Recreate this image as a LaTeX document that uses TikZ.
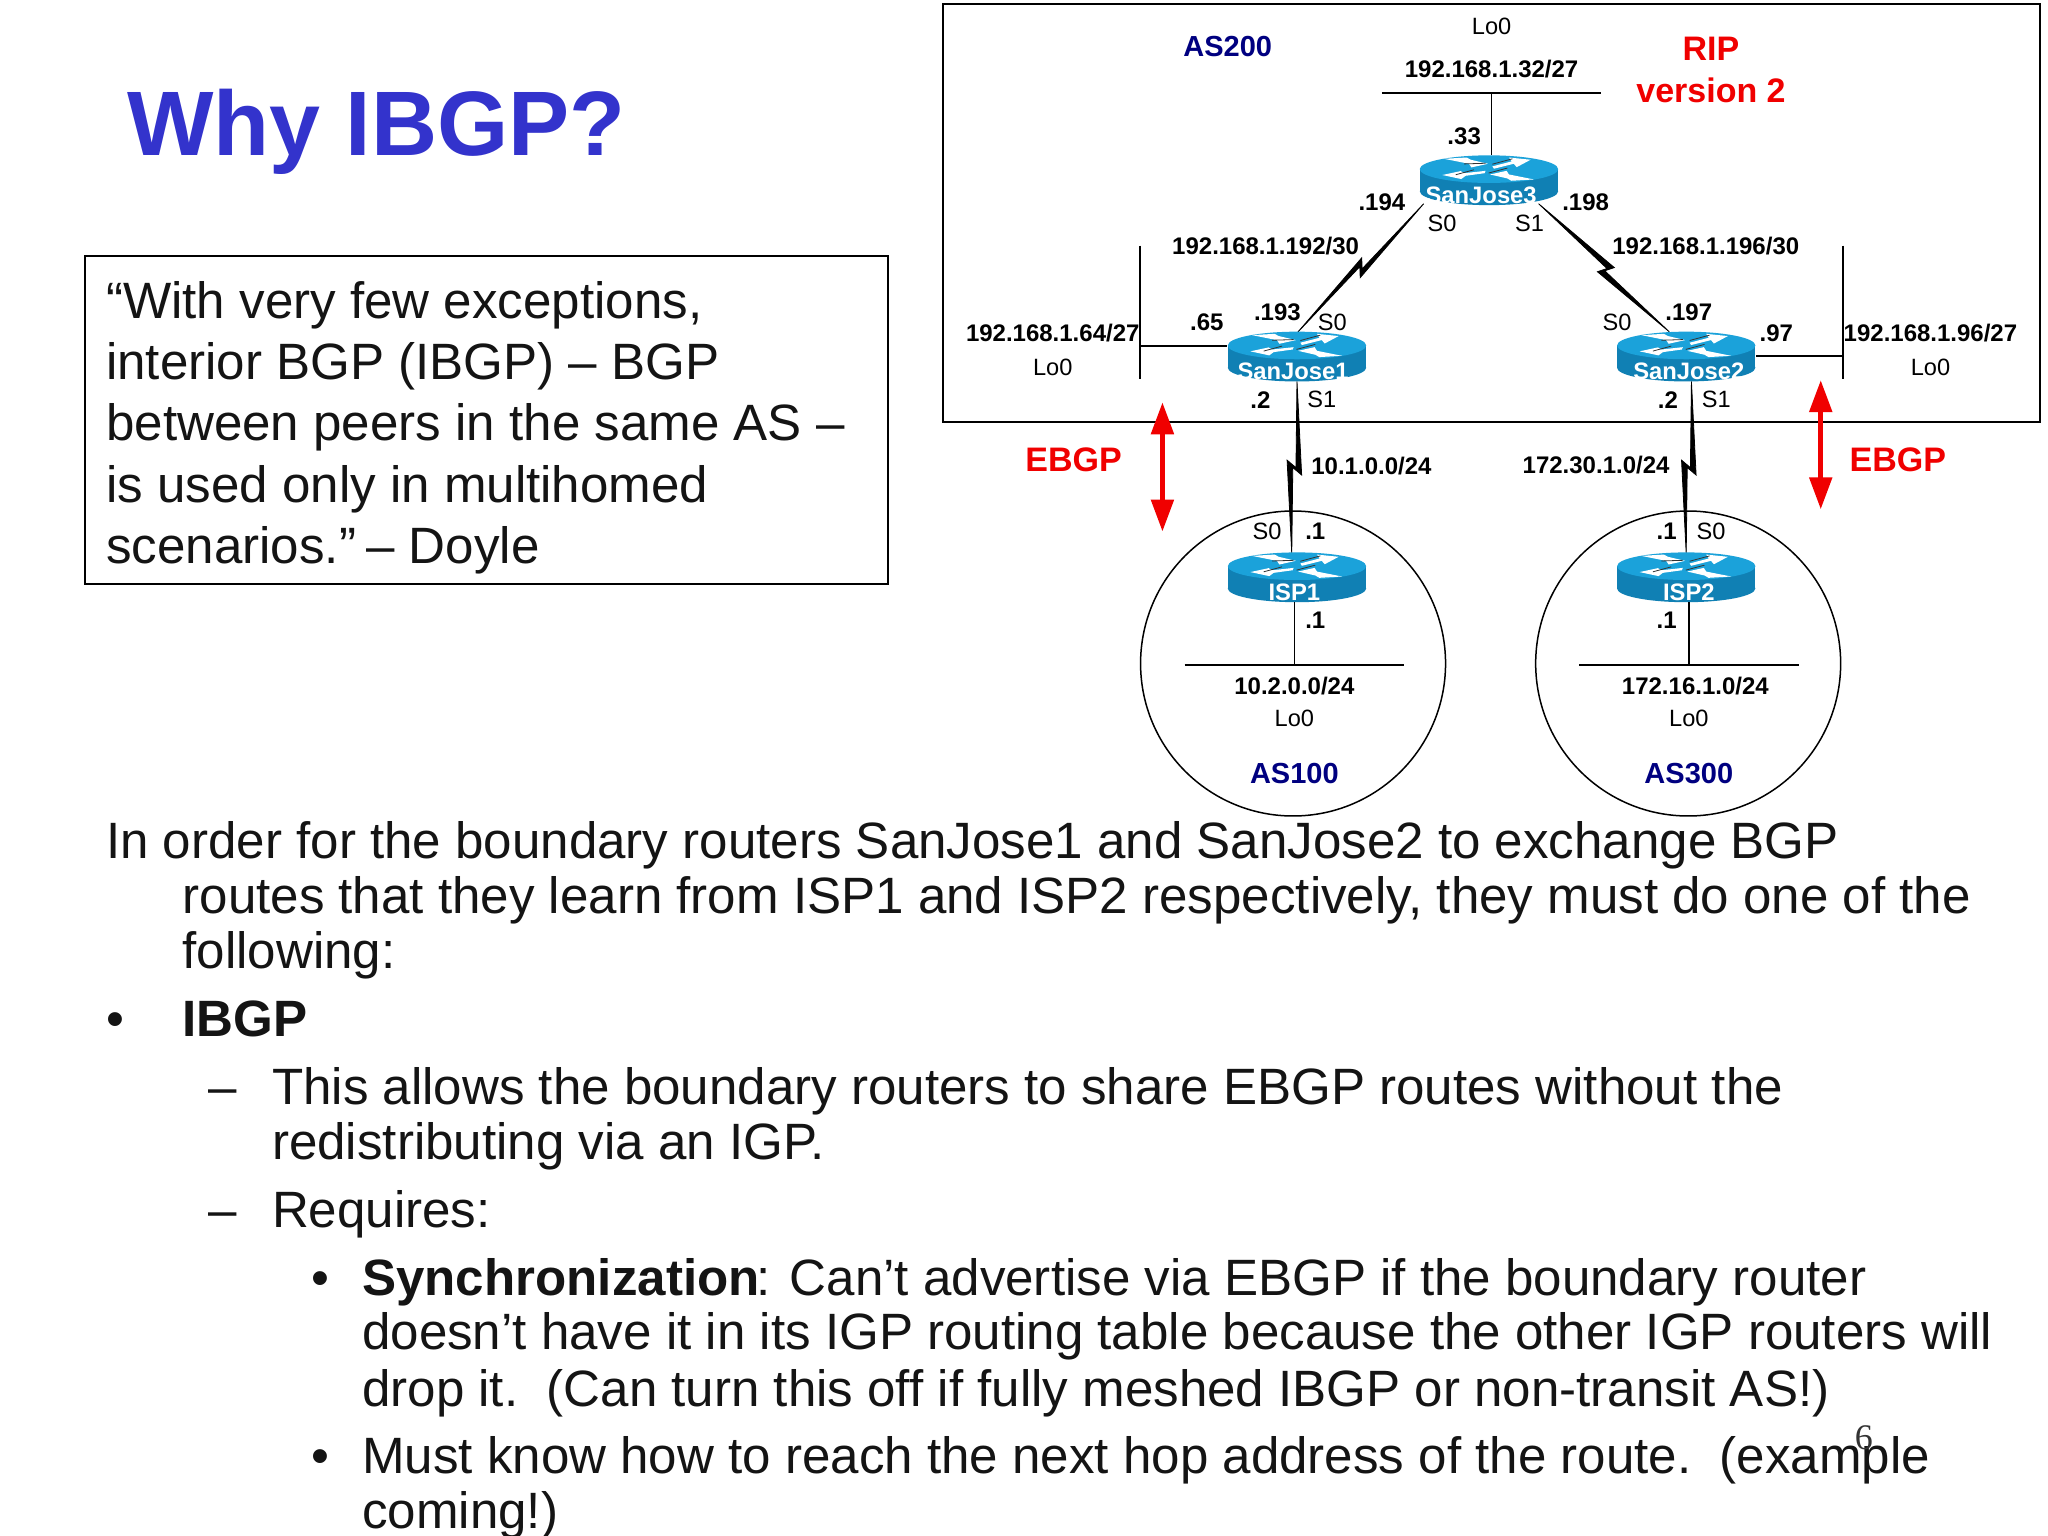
\documentclass[tikz,border=0pt]{standalone}
\usepackage{fontspec}
\setmainfont{Liberation Sans}
\newfontfamily\serifnum{Liberation Serif}
\usetikzlibrary{calc,arrows.meta}
\definecolor{rtop}{HTML}{1BA2DA}
\definecolor{rside}{HTML}{1080B4}
\definecolor{tblue}{HTML}{3333CC}
\definecolor{asnavy}{HTML}{000080}
\definecolor{redlab}{HTML}{F00000}
\newcommand\fsz[1]{\fontsize{#1}{#1}\selectfont}
\tikzset{
  netline/.style={line width=.85pt,black},
  thinb/.style={inner sep=0pt,font=\fsz{12}\bfseries},
  thinn/.style={inner sep=0pt,font=\fsz{11.8}},
  asl/.style={inner sep=0pt,font=\fsz{14.5}\bfseries,text=asnavy},
  redl/.style={inner sep=0pt,font=\fsz{17}\bfseries,text=redlab},
  rlab/.style={inner sep=0pt,anchor=base,font=\fsz{11.9}\bfseries,text=white},
  body/.style={inner sep=0pt,anchor=base west,font=\fsz{25.55},text=black!92},
  routerbox/.style={inner sep=0pt,minimum width=69.2pt,minimum height=24.5pt},
  redarrow/.style={redlab,line width=2.6pt,{Triangle[length=16pt,width=11pt]}-{Triangle[length=16pt,width=11pt]}},
}
% #1 name, #2 centre x, #3 top y, #4 label, #5 label x offset
\newcommand\router[5]{%
  \begin{scope}[shift={(#2,#3)}]
    \fill[rside] (0,27.5) ellipse [x radius=34.6pt,y radius=6.9pt];
    \fill[rside] (-53,10.5) rectangle (53,27.5);
    \fill[rtop] (0,10.5) ellipse [x radius=34.6pt,y radius=6.9pt];
    \begin{scope}[shift={(0,11)}]
      \fill[white] (-34.4,-8.4) -- (-17.1,-9.4) -- (-14,-7.7) -- (-.8,-4.6) -- (-13.5,-1.8) -- (-15.3,-4.6) -- cycle;
      \fill[white] (34.4,7.4) -- (17.1,8.4) -- (14,6.6) -- (.8,3.6) -- (13.5,.8) -- (15.3,3.6) -- cycle;
      \fill[white] (31.9,-7.7) -- (15.3,-9.4) -- (17.3,-6.4) -- (2.6,-2.6) -- (3.8,-.8) -- (19,-4.6) -- (21.2,-2) -- cycle;
      \fill[white] (-35.7,4) -- (-21.7,1) -- (-19,2.6) -- (-2.6,.8) -- (-3.3,2.6) -- (-17.9,4.6) -- (-21.2,7.1) -- cycle;
      \draw[black!80,line width=.4pt] (2.6,-4.3) -- (17.9,-8.4) (-25.5,3.8) -- (-11.5,0) (-19,-4.5) -- (-2.6,-5) (-.3,2.5) -- (14,-1.3);
    \end{scope}
    \node[rlab] (#1lab) at (#5,36.6) {#4};
  \end{scope}
  \node[routerbox] (#1) at (#2,#3+19) {};
}
% #1,#2 ends, #3 fraction, #4 side offset of the tips, #5 offset along the line
\newcommand\serial[5]{%
  \coordinate (m) at ($(#1)!#3!(#2)$);
  \coordinate (ua) at ($(m)!#5!(#2)$);
  \coordinate (ub) at ($(m)!-#5!(#2)$);
  \coordinate (t1) at ($(ua)!#4!90:(#2)$);
  \coordinate (t2) at ($(ub)!-#4!90:(#2)$);
  \coordinate (n1) at ($(m)!-0.8pt!90:(#2)$);
  \coordinate (n2) at ($(m)!0.8pt!90:(#2)$);
  \draw[black,line width=.4pt,fill=black,line join=miter] (#1) -- (t1) -- (n1) -- (#2) -- (t2) -- (n2) -- cycle;
}
\begin{document}
\begin{tikzpicture}[x=.6531pt,y=-.6531pt]
\useasboundingbox (0,0) rectangle (1568,1176);
\fill[white] (0,0) rectangle (1568,1176);

% slide text
\node[inner sep=0pt,anchor=base west,font=\fsz{45.8}\bfseries,text=tblue] (title) at (97,119) {Why IBGP?};
\node[draw=black,line width=.75pt,minimum width=401.6pt,minimum height=164pt,inner sep=0pt] (quotebox) at (372.5,321.5) {};
\node[anchor=west,inner sep=0pt,align=left,font=\fontsize{25.55}{30.7}\selectfont,text=black!92] (quote) at (81,327.5)
 {“With very few exceptions,\\interior BGP (IBGP) – BGP\\between peers in the same AS –\\is used only in multihomed\\scenarios.”\kern-2pt\ – Doyle};

\node[body] (b1) at (81,657) {In order for the boundary routers SanJose1 and SanJose2 to exchange BGP};
\node[body] (b2) at (139.5,699.5) {routes that they learn from ISP1 and ISP2 respectively, they must do one of the};
\node[body] (b3) at (139.5,741.5) {following:};
\node[body] (bu1) at (81,793.5) {•};
\node[body,font=\fsz{25.55}\bfseries] (b4) at (139.5,793.5) {IBGP};
\node[body] (d1) at (159,845.5) {–};
\node[body] (b5) at (208,845.5) {This allows the boundary routers to share EBGP routes without the};
\node[body] (b6) at (208,887.5) {redistributing via an IGP.};
\node[body] (d2) at (159,939.5) {–};
\node[body] (b7) at (208,939.5) {Requires:};
\node[body] (bu2) at (238,991.5) {•};
\node[body] (b8) at (277,991.5) {\textbf{Synchronization}\kern-1.5pt: Can’t advertise via EBGP if the boundary router};
\node[body] (b9) at (277,1033.5) {doesn’t have it in its IGP routing table because the other IGP routers will};
\node[body] (b10) at (277,1076.5) {drop it.\ \ (Can turn this off if fully meshed IBGP or non-transit AS!)};
\node[body] (bu3) at (238,1128.5) {•};
\node[body] (b11) at (277,1128.5) {Must know how to reach the next hop address of the route.\ \ (example};
\node[body] (b12) at (277,1170.5) {coming!)};
\node[inner sep=0pt,font=\serifnum\fsz{18},text=black!80] (pagenum) at (1427,1101) {6};

% diagram containers
\node[draw=black,line width=.9pt,inner sep=0pt,minimum width=548.6pt,minimum height=209pt] (as200) at (1142,163) {};
\node[draw=black,line width=.75pt,circle,inner sep=0pt,minimum size=152.5pt] (as100c) at (990,508) {};
\node[draw=black,line width=.75pt,circle,inner sep=0pt,minimum size=152.5pt] (as300c) at (1292.5,508) {};

% LAN bars
\coordinate (lan3) at (1142,71);
\coordinate (lan3a) at (1058,71); \coordinate (lan3b) at (1226,71);
\coordinate (lanl) at (873,265);
\coordinate (lanla) at (873,188); \coordinate (lanlb) at (873,290);
\coordinate (lanr) at (1411,272.7);
\coordinate (lanra) at (1411,188); \coordinate (lanrb) at (1411,290);
\coordinate (lani1) at (991,509);
\coordinate (lani1a) at (907,509); \coordinate (lani1b) at (1075,509);
\coordinate (lani2) at (1293,509);
\coordinate (lani2a) at (1209,509); \coordinate (lani2b) at (1377,509);
\draw[netline] (lan3a) -- (lan3b);
\draw[netline] (lanla) -- (lanlb);
\draw[netline] (lanra) -- (lanrb);
\draw[netline] (lani1a) -- (lani1b);
\draw[netline] (lani2a) -- (lani2b);

% serial end points
\coordinate (s3l) at (1090,156);
\coordinate (s1t) at (993,255);
\coordinate (s3r) at (1178,156);
\coordinate (s2t) at (1278,254);
\coordinate (s1b) at (993,292);
\coordinate (i1t) at (989,424);
\coordinate (s2b) at (1295,292);
\coordinate (i2t) at (1291,424);
\serial{s3l}{s1t}{0.495}{3.2pt}{3.8pt}
\serial{s3r}{s2t}{0.515}{3.7pt}{2.3pt}
\serial{s1b}{i1t}{0.5}{3.75pt}{3.6pt}
\serial{s2b}{i2t}{0.5}{3.75pt}{3.6pt}

% routers
\router{sj3}{1140}{119}{SanJose3}{-6}
\router{sj1}{993}{254}{SanJose1}{-3}
\router{sj2}{1291}{254}{SanJose2}{2}
\router{isp1}{993}{423}{ISP1}{-2}
\router{isp2}{1291}{423}{ISP2}{2}

% stems
\draw[netline] (lan3) -- (lan3 |- sj3.north);
\draw[netline] (lanl) -- (lanl -| sj1.west);
\draw[netline] (lanr) -- (lanr -| sj2.east);
\draw[netline] (lani1) -- (lani1 |- isp1.south);
\draw[netline] (lani2) -- (lani2 |- isp2.south);

% red arrows
\coordinate (ral) at (890,308); \coordinate (rbl) at (890,407);
\coordinate (rar) at (1394,291); \coordinate (rbr) at (1394,390);
\draw[redarrow] (ral) -- (rbl);
\draw[redarrow] (rar) -- (rbr);

% labels
\node[asl] (as200l) at (940,36) {AS200};
\node[thinn] (lo3) at (1142,20) {Lo0};
\node[thinb] (n32) at (1142,53) {192.168.1.32/27};
\node[redl] (rip) at (1310,37) {RIP};
\node[redl] (ver) at (1310,69) {version 2};
\node[thinb] (d33) at (1121,104) {.33};
\node[thinb] (d194) at (1058,155) {.194};
\node[thinb] (d198) at (1214,155) {.198};
\node[thinn] (s30) at (1104,171) {S0};
\node[thinn] (s31) at (1171,171) {S1};
\node[thinb] (n192) at (969,188) {192.168.1.192/30};
\node[thinb] (n196) at (1306,188) {192.168.1.196/30};
\node[thinb] (d65) at (924,247) {.65};
\node[thinb] (d193) at (978,239) {.193};
\node[thinn] (s10) at (1020,247) {S0};
\node[thinn] (s20) at (1238,247) {S0};
\node[thinb] (d197) at (1293,239) {.197};
\node[thinb] (d97) at (1360,255) {.97};
\node[thinb] (n64) at (806,255) {192.168.1.64/27};
\node[thinn] (lo1) at (806,281) {Lo0};
\node[thinb] (n96) at (1478,255) {192.168.1.96/27};
\node[thinn] (lo2) at (1478,281) {Lo0};
\node[thinb] (d2a) at (965,306) {.2};
\node[thinn] (s11) at (1012,306) {S1};
\node[thinb] (d2b) at (1277,306) {.2};
\node[thinn] (s21) at (1314,306) {S1};
\node[thinb] (n10) at (1050,357) {10.1.0.0/24};
\node[thinb] (n172) at (1222,356) {172.30.1.0/24};
\node[redl] (ebgpl) at (822,352) {EBGP};
\node[redl] (ebgpr) at (1453,352) {EBGP};
\node[thinn] (si1) at (970,407) {S0};
\node[thinb] (d1a) at (1007,407) {.1};
\node[thinb] (d1b) at (1276,407) {.1};
\node[thinn] (si2) at (1310,407) {S0};
\node[thinb] (d1c) at (1007,475) {.1};
\node[thinb] (d1d) at (1276,475) {.1};
\node[thinb] (n102) at (991,525) {10.2.0.0/24};
\node[thinb] (n17216) at (1298,525) {172.16.1.0/24};
\node[thinn] (loi1) at (991,550) {Lo0};
\node[thinn] (loi2) at (1293,550) {Lo0};
\node[asl] (as100l) at (991,592) {AS100};
\node[asl] (as300l) at (1293,592) {AS300};
\end{tikzpicture}
\end{document}
